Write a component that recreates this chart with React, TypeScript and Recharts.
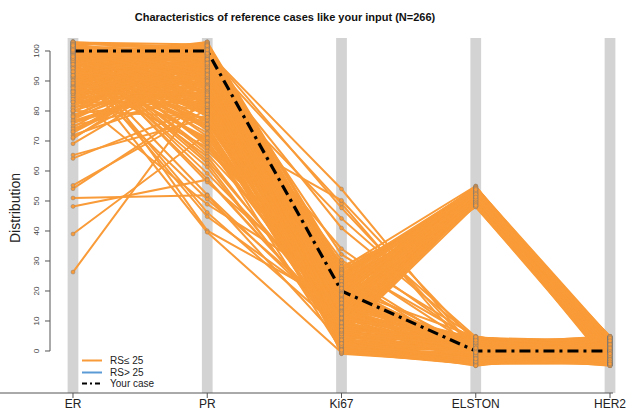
import React from "react";
import { LineChart, Line, XAxis, YAxis, ReferenceArea, ReferenceLine } from "recharts";

// Axis (category) names of the parallel coordinates
const axisNames = ["ER", "PR", "Ki67", "ELSTON", "HER2"];
const yTicks = [0, 10, 20, 30, 40, 50, 60, 70, 80, 90, 100];

// Reference cases, group A (mostly high ELSTON)
const erGroupA = [101.2, 97.5, 88.3, 102.4, 94.1, 79.6, 99.0, 85.7, 103.1, 91.8, 76.4, 100.6, 96.2, 82.9, 98.7, 73.5, 102.0, 89.4, 95.3, 100.1, 86.8, 71.9, 99.6, 93.0, 80.2, 101.8, 97.9, 84.5, 102.7, 90.6, 77.8, 98.4, 100.9, 87.1, 95.8, 74.6, 103.0, 92.5, 81.3, 99.3, 64.2, 101.5, 96.6, 83.7, 98.1, 26.3, 100.4, 94.7, 78.9, 102.2, 88.9, 97.1, 72.8, 99.8, 91.2, 85.0, 101.0, 54.1, 96.9, 100.0];
const prGroupA = [95.2, 88.4, 101.7, 79.3, 92.6, 100.8, 84.1, 97.3, 71.5, 102.9, 90.2, 66.8, 98.5, 83.0, 46.2, 96.4, 80.7, 100.2, 74.9, 93.8, 102.3, 87.5, 61.3, 99.1, 91.7, 78.2, 103.0, 85.6, 68.4, 97.8, 94.3, 52.1, 82.6, 101.4, 89.9, 99.6, 76.1, 93.1, 86.3, 100.5, 81.9, 57.4, 96.9, 102.6, 72.7, 86.9, 90.8, 98.2, 84.8, 63.5, 100.9, 79.8, 95.7, 88.1, 101.9, 92.2, 69.6, 83.5, 97.0, 99.4];
const ki67GroupA = [18.4, 9.7, 24.6, 6.1, 14.9, 21.3, 6.8, 27.5, 11.2, 16.7, 8.0, 23.8, 8.4, 19.6, 7.0, 26.1, 12.8, 22.4, 7.3, 17.5, 25.3, 10.1, 5.4, 20.8, 15.4, 5.9, 28.2, 13.6, 9.5, 23.1, 18.9, 9.2, 26.8, 14.2, 6.6, 21.7, 11.9, 16.1, 6.2, 24.9, 19.3, 8.7, 13.1, 27.1, 8.9, 15.8, 22.9, 5.1, 17.9, 10.6, 25.8, 12.3, 20.2, 7.8, 23.5, 5.8, 16.4, 7.5, 19.8, 14.6];
const elstonGroupA = [52.3, 49.1, 54.6, 50.8, 53.2, 48.4, 51.7, 55.0, 49.8, 52.9, 50.2, 54.1, 48.9, 51.2, 53.7, 49.4, 52.1, 54.8, 50.5, 48.2, 53.4, 51.5, 49.6, 54.3, 52.6, 50.0, 48.7, 53.9, 51.9, 49.2, 54.9, 50.9, 52.4, 48.5, 53.0, 51.1, 49.9, 54.5, 52.8, 50.3, 48.0, 53.6, 51.4, 49.0, 54.0, 52.0, 50.6, 48.6, 53.3, 51.8, 49.5, 54.7, 52.5, 50.1, 48.3, 53.8, 51.3, 49.7, 54.2, 52.2];
const her2GroupA = [3.1, -2.4, 4.6, -4.8, 0.7, -1.3, 2.5, -3.7, 4.9, -0.2, 1.8, -4.1, 3.8, -2.9, 0.3, 4.2, -1.7, 2.9, -4.5, 1.1, -3.2, 4.4, -0.8, 2.2, -4.9, 3.5, -1.9, 0.9, -3.4, 4.7, -2.1, 1.5, -4.3, 3.3, -0.5, 2.7, -3.9, 4.0, -1.1, 0.1, -2.6, 3.7, -4.6, 1.3, -0.9, 4.8, -3.0, 2.0, -1.5, 3.9, -4.2, 0.5, -2.7, 4.3, -0.1, 1.7, -3.6, 2.4, -4.7, 0.4];

// Reference cases, group B (low ELSTON)
const erGroupB = [100.3, 96.1, 87.2, 102.8, 93.4, 78.5, 99.5, 84.3, 101.6, 90.9, 75.2, 98.9, 95.0, 81.7, 102.1, 89.0, 70.8, 97.4, 100.7, 86.0, 94.6, 103.2, 79.9, 99.2, 92.3, 83.4, 101.3, 96.8, 69.1, 88.6, 102.5, 94.0, 77.1, 100.2, 85.4, 97.7, 91.5, 101.9, 80.8, 98.3, 65.3, 99.9, 93.7, 86.5, 102.9, 74.0, 96.4, 100.8, 89.7, 82.2, 98.6, 101.1, 55.2, 95.5, 87.9, 99.4, 92.8, 102.3, 76.7, 97.2, 48.2, 100.5, 90.3, 84.9, 101.7, 94.9, 39.0, 98.0, 88.2, 102.6, 73.1, 96.0, 100.9, 51.0, 91.0, 99.1, 83.1, 97.6, 101.4, 86.7];
const prGroupB = [98.7, 91.3, 82.4, 102.2, 76.8, 96.5, 87.9, 100.4, 59.2, 93.6, 84.7, 101.8, 70.3, 97.1, 89.2, 79.5, 99.7, 44.8, 94.1, 102.7, 86.2, 73.6, 100.0, 91.9, 81.1, 97.6, 65.7, 88.7, 95.4, 101.2, 78.4, 50.6, 98.3, 84.2, 93.3, 102.1, 67.9, 90.4, 99.0, 80.3, 77.6, 96.0, 85.3, 101.5, 40.1, 92.7, 88.0, 100.7, 75.4, 97.3, 83.8, 62.6, 80.6, 94.7, 102.5, 86.6, 99.8, 56.3, 90.9, 81.6, 57.1, 96.7, 103.1, 48.9, 89.5, 74.2, 72.4, 100.1, 93.9, 85.9, 98.9, 39.6, 82.9, 51.9, 101.0, 95.0, 87.3, 64.8, 99.3, 91.1];
const ki67GroupB = [8.2, 2.4, 15.7, -0.6, 11.3, 5.8, 19.4, 1.2, 13.9, 7.1, 22.3, 3.6, 0.2, 17.2, 9.9, 4.7, 54.0, 12.6, -0.9, 6.4, 20.1, 2.9, 14.8, 0.6, 10.4, 49.1, 18.0, 3.3, 7.7, 25.4, 1.7, 11.8, 5.2, 16.3, -0.3, 8.8, 21.6, 44.2, 4.0, 13.2, 1.0, 9.3, 29.4, 6.0, 15.1, 0.0, 19.0, 2.1, 50.2, 12.0, 7.4, 3.9, 23.7, -0.8, 10.9, 34.1, 5.5, 17.7, 1.5, 14.3, 8.5, 41.0, 2.6, 20.7, 0.9, 6.7, 11.5, 47.7, 4.4, 16.9, 32.2, -0.5, 9.6, 3.1, 13.6, 26.4, 0.4, 7.9, 18.6, 30.3];
const elstonGroupB = [1.2, -3.4, 4.1, -0.7, 2.8, -4.6, 0.3, 3.6, -2.2, 4.9, -1.5, 2.0, -4.0, 0.8, -2.9, 3.3, -0.1, 4.5, -3.8, 1.6, -1.1, 2.4, -4.9, 0.5, 3.9, -2.6, 1.9, -0.4, 4.3, -3.1, 2.6, -1.8, 0.0, 3.0, -4.3, 1.4, -2.4, 4.7, -0.9, 2.2, -3.6, 0.9, 3.7, -1.3, 4.0, -4.4, 1.8, -2.0, 2.9, -0.6, 3.4, -3.3, 0.6, 4.6, -1.7, 2.5, -4.7, 1.0, -2.8, 3.8, -0.3, 4.2, -3.9, 1.3, -1.0, 2.1, -4.1, 0.2, 3.2, -2.5, 4.8, -0.8, 1.7, -3.5, 2.7, -1.4, 0.7, 3.5, -4.8, 1.1];
const her2GroupB = [-2.3, 3.9, -0.6, 1.8, -4.4, 4.6, -1.2, 0.4, 2.9, -3.5, 4.1, -0.9, 1.6, -4.8, 3.2, -2.0, 0.8, -3.1, 4.8, -1.6, 2.3, -4.0, 0.0, 3.6, -2.7, 1.4, -4.6, 4.3, -0.3, 2.6, -3.8, 1.0, -1.9, 3.4, -4.2, 0.6, 4.9, -2.5, 1.9, -0.7, 3.0, -3.3, 2.1, -4.9, 0.2, 4.4, -1.4, 2.8, -3.0, 1.2, -0.4, 3.8, -4.7, 0.9, -2.2, 4.0, -1.0, 2.4, -3.6, 0.7, -4.1, 3.5, -1.8, 1.5, -2.9, 4.5, -0.2, 2.2, -3.9, 1.1, -4.5, 0.3, 3.1, -1.3, 4.7, -2.4, 0.1, -3.4, 2.5, -0.5];

// Reference cases, group C (mixed ELSTON)
const erGroupC = [99.7, 94.4, 101.9, 88.0, 97.0, 102.6, 91.4, 100.5, 83.9, 98.2, 95.9, 103.0, 86.1, 99.0, 92.0, 101.2, 78.1, 97.8, 100.2, 89.8, 96.3, 102.0, 93.6, 99.4, 81.0, 101.6, 95.2, 87.6, 100.8, 98.8, 90.1, 102.9, 94.8, 76.0, 99.6, 97.3, 85.8, 101.4, 92.9, 100.1, 96.7, 83.0, 102.4, 98.5, 89.3, 100.6, 94.2, 71.2, 101.0, 97.5, 91.9, 99.9, 86.4, 102.2, 95.6, 80.1, 100.3, 98.1, 93.1, 101.8];
const prGroupC = [101.1, 86.5, 97.9, 92.4, 78.8, 100.3, 83.2, 95.6, 99.5, 88.9, 102.0, 74.3, 94.9, 98.8, 81.4, 90.7, 100.6, 85.0, 96.2, 102.8, 77.0, 93.0, 99.8, 87.2, 96.6, 82.1, 101.6, 91.5, 69.3, 98.0, 84.6, 100.9, 94.5, 89.6, 102.4, 79.1, 97.4, 86.0, 100.1, 92.1, 75.6, 96.1, 101.3, 83.6, 98.6, 88.3, 71.0, 95.3, 102.1, 80.1, 99.2, 90.0, 85.4, 97.2, 101.8, 77.9, 93.5, 100.4, 87.8, 95.9];
const ki67GroupC = [6.3, 14.2, 0.5, 21.0, 9.1, 3.4, 17.8, 11.7, -0.4, 24.2, 7.9, 2.2, 15.3, 19.9, 5.0, 12.9, 0.1, 22.8, 8.7, 4.2, 16.6, 10.2, 1.3, 20.4, 13.4, 6.9, -0.7, 18.3, 9.8, 2.8, 23.3, 12.1, 4.9, 15.9, 0.7, 7.2, 21.9, 10.7, 3.0, 17.1, 13.0, 5.7, 19.2, -0.2, 8.1, 25.9, 11.0, 1.8, 16.0, 6.5, 22.1, 3.7, 14.6, 9.4, 0.3, 18.8, 7.0, 12.4, 2.5, 20.9];
const elstonGroupC = [2.1, 51.6, -1.9, 53.5, -3.2, 0.6, 49.3, 4.4, -4.5, 52.7, 1.5, -0.2, -2.7, 54.4, 3.1, 50.4, -4.0, 48.8, 2.3, -1.2, 53.1, -3.7, 4.6, 0.9, 51.0, -2.1, 3.8, 54.0, 49.7, -4.4, 52.4, 1.9, -0.9, 48.1, 2.6, 50.9, -3.0, 53.0, 0.4, 49.0, -1.6, 4.0, 51.9, -2.4, 0.0, 54.2, 3.4, -4.9, 52.2, 1.0, 50.6, -3.5, 2.9, 48.5, -0.5, 53.8, 3.6, 51.3, -2.6, 4.7];
const her2GroupC = [1.6, -3.8, 4.2, -0.4, 2.8, -4.4, 0.9, 3.3, -2.0, 4.6, -1.0, 2.3, -4.7, 0.3, 3.7, -2.6, 1.2, -3.4, 4.9, -0.8, 2.0, -4.2, 0.6, 3.0, -1.8, 4.4, -2.9, 1.9, -4.9, 0.0, 3.6, -1.4, 2.6, -3.7, 4.1, -0.6, 1.4, -4.5, 3.9, -2.3, 0.8, -3.1, 4.7, -1.1, 2.5, -4.0, 0.2, 3.2, -2.8, 1.7, -0.1, 4.3, -3.6, 2.2, -1.6, 0.5, -4.3, 3.4, -0.9, 1.0];

// The user's own case
const yourCaseValues = [100, 100, 20, 0, 0];

const erValues = [...erGroupA, ...erGroupB, ...erGroupC];
const prValues = [...prGroupA, ...prGroupB, ...prGroupC];
const ki67Values = [...ki67GroupA, ...ki67GroupB, ...ki67GroupC];
const elstonValues = [...elstonGroupA, ...elstonGroupB, ...elstonGroupC];
const her2Values = [...her2GroupA, ...her2GroupB, ...her2GroupC];
const columns = [erValues, prValues, ki67Values, elstonValues, her2Values];
const seriesKeys = erValues.map((_, k) => "s" + k);

const rows = axisNames.map((name, i) => {
  const row: Record<string, number | string> = { x: i, name, yourCase: yourCaseValues[i] };
  columns[i].forEach((v, k) => {
    row["s" + k] = v;
  });
  return row;
});

const FONT = "'Liberation Sans', Arial, Helvetica, sans-serif";
const ORANGE = "#F99B38";
const BLUE = "#5B9BD5";
const X_MIN = -0.1713;
const X_MAX = 4.0223;
const X_LEFT_EDGE = -0.5438;
const Y_MIN = -14;
const Y_MAX = 104.33;
const BAR_HALF = 0.04;

const YTick = (props: any) => {
  const { x, y, payload } = props;
  return (
    <text
      x={x}
      y={y}
      transform={`rotate(-90 ${x} ${y})`}
      textAnchor="middle"
      fontSize={8}
      fill="#444"
      fontFamily={FONT}
    >
      {payload.value}
    </text>
  );
};

const legendItems = [
  { label: "RS\u2264 25", color: ORANGE, dash: undefined as string | undefined, width: 2 },
  { label: "RS> 25", color: BLUE, dash: undefined as string | undefined, width: 2 },
  { label: "Your case", color: "#000", dash: "5 3 2 3", width: 2 },
];

export default function App() {
  return (
    <div style={{ position: "absolute", left: 0, top: 0, width: 626, height: 411, background: "#fff", fontFamily: FONT }}>
      <LineChart width={626} height={411} data={rows} margin={{ top: 38, right: 13, bottom: 0, left: 0 }}>
        {axisNames.map((n, i) => (
          <ReferenceArea
            key={"bar" + n}
            x1={i - BAR_HALF}
            x2={i + BAR_HALF}
            y1={Y_MIN}
            y2={Y_MAX}
            fill="#d3d3d3"
            fillOpacity={1}
            stroke="none"
            ifOverflow="visible"
          />
        ))}
        <XAxis
          dataKey="x"
          type="number"
          domain={[X_MIN, X_MAX]}
          ticks={[0, 1, 2, 3, 4]}
          interval={0}
          allowDataOverflow
          tickFormatter={(v: number) => axisNames[v]}
          height={18}
          axisLine={false}
          tickLine={{ stroke: "#555" }}
          tickSize={5}
          tickMargin={1}
          tick={{ fontSize: 12, fill: "#222", fontFamily: FONT }}
        />
        <YAxis
          type="number"
          domain={[Y_MIN, Y_MAX]}
          ticks={yTicks}
          interval={0}
          allowDataOverflow
          width={50}
          axisLine={false}
          tickLine={{ stroke: "#555" }}
          tickSize={5}
          tickMargin={6}
          tick={<YTick />}
        />
        <ReferenceLine
          segment={[{ x: X_MIN, y: 0 }, { x: X_MIN, y: 100 }]}
          stroke="#555"
          ifOverflow="visible"
        />
        <ReferenceLine
          segment={[{ x: X_LEFT_EDGE, y: Y_MIN }, { x: X_MAX, y: Y_MIN }]}
          stroke="#555"
          ifOverflow="visible"
        />
        {seriesKeys.map((key) => (
          <Line
            key={key}
            dataKey={key}
            type="linear"
            stroke={ORANGE}
            strokeWidth={2}
            dot={{ r: 2, stroke: "#777", strokeWidth: 0.5, strokeOpacity: 0.8, fill: ORANGE }}
            activeDot={false}
            isAnimationActive={false}
          />
        ))}
        <Line
          dataKey="yourCase"
          type="linear"
          stroke="#000"
          strokeWidth={3.2}
          strokeDasharray="11 5 3 5"
          dot={false}
          activeDot={false}
          isAnimationActive={false}
        />
      </LineChart>

      <div
        style={{
          position: "absolute",
          left: 0,
          top: 11,
          width: 570,
          textAlign: "center",
          fontWeight: "bold",
          fontSize: 11,
          lineHeight: "12px",
          color: "#111",
          whiteSpace: "nowrap",
        }}
      >
        Characteristics of reference cases like your input (N=266)
      </div>

      <div
        style={{
          position: "absolute",
          left: 15,
          top: 208,
          transform: "translate(-50%, -50%) rotate(-90deg)",
          fontSize: 14,
          lineHeight: "14px",
          color: "#222",
          whiteSpace: "nowrap",
        }}
      >
        Distribution
      </div>

      <div style={{ position: "absolute", left: 82, top: 355 }}>
        {legendItems.map((it) => (
          <div key={it.label} style={{ display: "flex", alignItems: "center", height: 11.5 }}>
            <svg width={20} height={11} style={{ display: "block" }}>
              <line x1={0} y1={5.5} x2={20} y2={5.5} stroke={it.color} strokeWidth={it.width} strokeDasharray={it.dash} />
            </svg>
            <span style={{ marginLeft: 8, fontSize: 10, lineHeight: "11px", color: "#222", whiteSpace: "nowrap" }}>{it.label}</span>
          </div>
        ))}
      </div>
    </div>
  );
}
